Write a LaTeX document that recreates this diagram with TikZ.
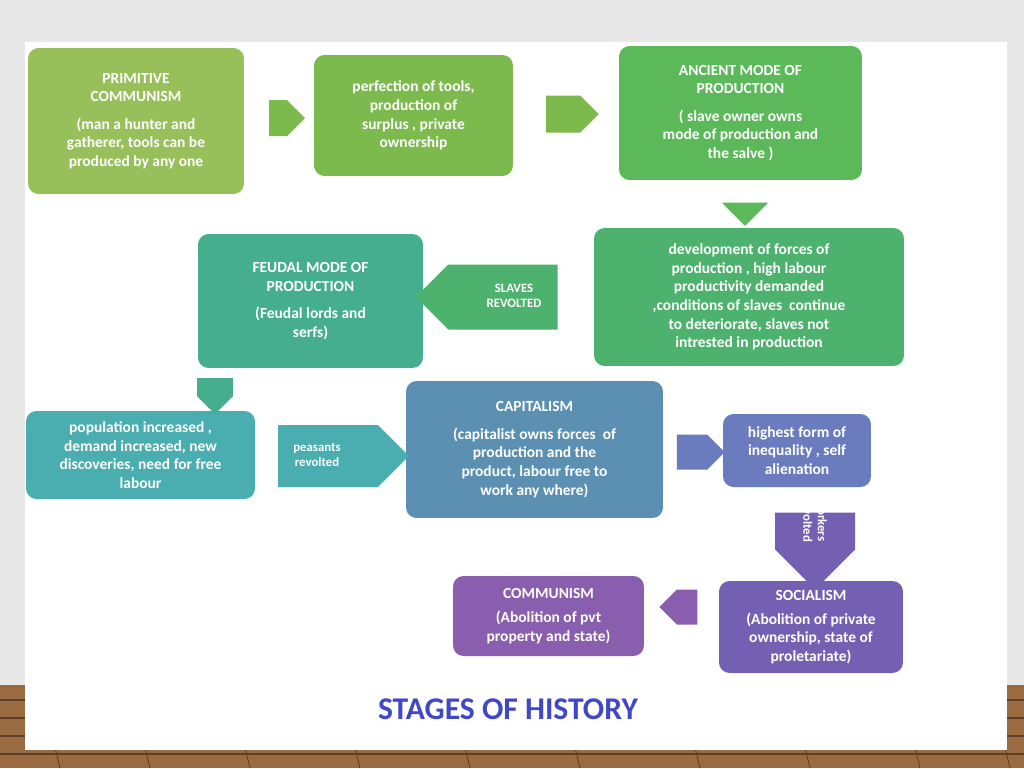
\documentclass[tikz,border=0pt]{standalone}
\usepackage{fontspec}
\setmainfont{Carlito}
\usetikzlibrary{shapes.arrows}
\definecolor{c1}{HTML}{97C05A}
\definecolor{c2}{HTML}{7DBA4E}
\definecolor{c3}{HTML}{5BB95A}
\definecolor{c4}{HTML}{4DB26E}
\definecolor{c5}{HTML}{44AE8E}
\definecolor{c6}{HTML}{4AADB0}
\definecolor{c7}{HTML}{5B90B2}
\definecolor{c8}{HTML}{6A7CBE}
\definecolor{c9}{HTML}{7460B2}
\definecolor{c10}{HTML}{8A5EAE}
\definecolor{ttl}{HTML}{4048C8}
\definecolor{wood}{HTML}{9A6A40}
\tikzset{
 box/.style={rounded corners=6pt,draw=none,text=white,align=center,font=\bfseries\fontsize{8.8}{10.6}\selectfont},
 arr/.style={single arrow,draw=none,single arrow head extend=0pt,inner sep=0pt,text=white,align=center,font=\bfseries\fontsize{7.3}{8.3}\selectfont}
}
\begin{document}
\begin{tikzpicture}[x=0.02cm,y=-0.02cm]
\useasboundingbox (0,0) rectangle (1024,768);
\fill[gray!18] (0,0) rectangle (1024,768);
\fill[wood] (0,685) rectangle (1024,768);
\foreach \y in {700,718,736,754}{\draw[wood!60!black,line width=0.6pt] (0,\y) -- (1024,\y);}
\foreach \x in {40,130,230,340,450,560,680,790,900,990}{\draw[wood!60!black,line width=0.5pt] (\x,685) -- (\x+20,768);}
\fill[white] (25,42) rectangle (1007,750);
\node[box,fill=c1,minimum width=4.32cm,minimum height=2.92cm] (b1) at (136,121) {PRIMITIVE\\COMMUNISM\\[5pt](man a hunter and\\gatherer, tools can be\\produced by any one};
\node[box,fill=c2,minimum width=3.98cm,minimum height=2.42cm] (b2) at (413.5,115.5) {perfection of tools,\\production of\\surplus , private\\ownership};
\node[box,fill=c3,minimum width=4.86cm,minimum height=2.68cm] (b3) at (740.5,113) {ANCIENT MODE OF\\PRODUCTION\\[5pt]( slave owner owns\\mode of production and\\the salve )};
\node[box,fill=c4,minimum width=6.2cm,minimum height=2.76cm] (b4) at (749,297) {development of forces of\\production , high labour\\productivity demanded\\,conditions of slaves\ \ continue\\to deteriorate, slaves not\\intrested in production};
\node[box,fill=c5,minimum width=4.5cm,minimum height=2.68cm] (b5) at (310.5,301) {FEUDAL MODE OF\\PRODUCTION\\[5pt](Feudal lords and\\serfs)};
\node[box,fill=c6,minimum width=4.58cm,minimum height=1.76cm] (b6) at (140.5,455) {population increased ,\\demand increased, new\\discoveries, need for free\\labour};
\node[box,fill=c7,minimum width=5.14cm,minimum height=2.74cm] (b7) at (534.5,449.5) {CAPITALISM\\[5pt](capitalist owns forces\ \ of\\production and the\\product, labour free to\\work any where)};
\node[box,fill=c8,minimum width=2.96cm,minimum height=1.46cm] (b8) at (797,450.5) {highest form of\\inequality , self\\alienation};
\node[box,fill=c9,minimum width=3.68cm,minimum height=1.84cm] (b9) at (811,627) {SOCIALISM\\[3pt](Abolition of private\\ownership, state of\\proletariate)};
\node[box,fill=c10,minimum width=3.82cm,minimum height=1.6cm] (b10) at (548.5,616) {COMMUNISM\\[3pt](Abolition of pvt\\property and state)};
\node[arr,fill=c2,minimum height=0.72cm,minimum width=0.72cm] (a1) at (278,118) {};
\node[arr,fill=c2,minimum height=1.06cm,minimum width=0.74cm] (a2) at (563,114) {};
\node[arr,fill=c3,minimum height=0.42cm,minimum width=0.9cm,shape border rotate=270] (a3) at (745,203) {};
\node[arr,fill=c4,minimum height=2.84cm,minimum width=1.3cm,shape border rotate=180] (a4) at (503,297) {};
\node[text=white,align=center,font=\bfseries\fontsize{7.3}{8.3}\selectfont] at (514,296) {SLAVES\\REVOLTED};
\node[arr,fill=c5,minimum height=0.72cm,minimum width=0.72cm,shape border rotate=225] (a5) at (215,387) {};
\node[arr,fill=c6,minimum height=2.62cm,minimum width=1.24cm] (a6) at (328,456) {};
\node[text=white,align=center,font=\bfseries\fontsize{7.3}{8.3}\selectfont] at (317,455) {peasants\\revolted};
\node[arr,fill=c8,minimum height=0.96cm,minimum width=0.7cm] (a7) at (692,452) {};
\node[arr,fill=c9,minimum height=1.54cm,minimum width=1.6cm,shape border rotate=270] (a8) at (815,531) {};
\node[text=white,align=center,rotate=-90,font=\bfseries\fontsize{7.3}{8.3}\selectfont] at (815,520) {workers\\revolted};
\node[arr,fill=c10,minimum height=0.76cm,minimum width=0.7cm,shape border rotate=180] (a9) at (687,607) {};
\node[text=ttl,font=\bfseries\fontsize{18}{20}\selectfont] (title) at (508,709) {STAGES OF HISTORY};
\end{tikzpicture}
\end{document}
